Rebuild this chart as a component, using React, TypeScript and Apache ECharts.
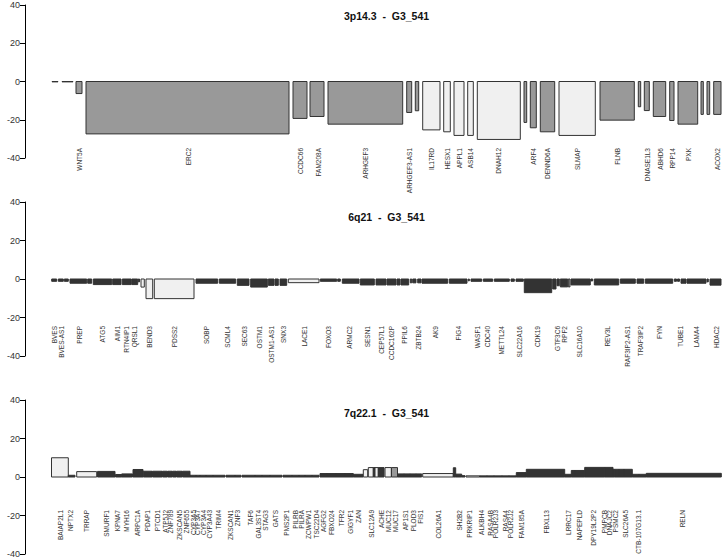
import React, { useEffect, useRef } from "react";
import * as echarts from "echarts";

// fill classes: 0 = dark, 1 = medium, 2 = light
const FILLS = ["#333333", "#999999", "#f0f0f0"];

const titles = ["3p14.3  -  G3_541", "6q21  -  G3_541", "7q22.1  -  G3_541"];
const yTicks = [-40, -20, 0, 20, 40];

// ---------- Panel 1: 3p14.3 ----------
const p1Start = [52, 62, 76, 86, 293, 310, 328, 406.7, 415.3, 422.7, 443.7, 454, 467.7, 477.3, 524, 530.3, 540.3, 559, 600, 638.3, 644.3, 653.3, 669.7, 678, 701, 707, 713.7];
const p1End = [58, 73, 82, 289, 307, 324, 402.7, 411.7, 418.7, 440, 450.3, 464, 473.3, 520.3, 526.7, 536.3, 554.7, 595.3, 634.3, 640.7, 649.3, 665.7, 674, 697.7, 703.3, 709.7, 721];
const p1Value = [-0.2, -0.2, -6.3, -27.4, -19.3, -18.3, -22.3, -16.2, -15.3, -25.3, -26.3, -28.2, -28.2, -30.3, -21.4, -24.2, -26.3, -28.2, -20.2, -13.2, -15.2, -18.3, -20.4, -22.3, -17.2, -17.2, -17.2];
const p1Fill = [1, 1, 1, 1, 1, 1, 1, 1, 1, 2, 2, 2, 2, 2, 1, 1, 1, 2, 1, 1, 1, 1, 1, 1, 1, 1, 1];
const p1Labels = ["WNT5A", "ERC2", "CCDC66", "FAM208A", "ARHGEF3", "ARHGEF3-AS1", "IL17RD", "HESX1", "APPL1", "ASB14", "DNAH12", "ARF4", "DENND6A", "SLMAP", "FLNB", "DNASE1L3", "ABHD6", "RPP14", "PXK", "ACOX2"];
const p1LabelX = [79, 188, 300, 318, 365, 409, 431.7, 447, 459, 470.5, 498.7, 533.5, 547.5, 577, 617, 647, 660, 672, 688, 717];

// ---------- Panel 2: 6q21 ----------
const p2Start = [51.7, 58.3, 64.3, 70, 87.7, 93.3, 112.7, 122.3, 131.7, 138.3, 141, 146, 154.3, 196, 219.3, 237.3, 250.7, 268.3, 275, 280, 288.3, 320.3, 337.7, 342.3, 360.3, 376, 387, 397, 401, 410.3, 412.7, 417.7, 422, 449.3, 468.3, 471, 483.3, 494.3, 511, 516, 524.3, 552.7, 557, 560.3, 568.3, 571, 591, 594.3, 620.3, 637, 645.3, 674.3, 677.5, 681, 687, 707, 710];
const p2End = [56.7, 63.3, 68.3, 86.7, 91.7, 111.7, 121, 131, 137.7, 139.5, 144.3, 152.7, 194, 217.7, 235.7, 249, 267.3, 274, 278.3, 286.7, 319, 336.7, 340.3, 359, 374.3, 386, 396, 400, 408.7, 411.7, 416, 421, 447.7, 467, 469.3, 481.7, 492.7, 509.3, 514.3, 523.3, 551.7, 556, 559.3, 567.7, 570, 590.3, 592.7, 618.7, 635.3, 643.7, 672.7, 676.5, 679.5, 686, 706, 708.3, 721];
const p2Value = [-1.2, -1.2, -1.2, -2.2, -2.2, -2.9, -2.9, -2.9, -2.9, -1.5, -4.2, -10.2, -10.2, -2.2, -2.2, -3.3, -4.2, -3.3, -3.3, -3.3, -1.9, -1.2, -1.2, -2.2, -3.1, -3.1, -3.1, -3.1, -3.1, -2, -2, -2, -2.2, -2.2, -1, -1.2, -1.2, -1.2, -1.2, -1.2, -7.1, -5.2, -3.5, -4.1, -4.1, -3.1, -1, -3.1, -2.2, -2.2, -2.2, -1.2, -1.2, -2.2, -2.2, -1.5, -3.2];
const p2Fill = [0, 0, 0, 0, 0, 0, 0, 0, 0, 0, 2, 2, 2, 0, 0, 0, 0, 0, 0, 0, 2, 0, 0, 0, 0, 0, 0, 0, 0, 0, 0, 0, 0, 0, 0, 0, 0, 0, 0, 0, 0, 0, 0, 0, 1, 0, 0, 0, 0, 0, 0, 0, 0, 0, 0, 0, 0];
const p2Labels = ["BVES", "BVES-AS1", "PREP", "ATG5", "AIM1", "RTN4IP1", "QRSL1", "BEND3", "PDSS2", "SOBP", "SCML4", "SEC63", "OSTM1", "OSTM1-AS1", "SNX3", "LACE1", "FOXO3", "ARMC2", "SESN1", "CEP57L1", "CCDC162P", "PPIL6", "ZBTB24", "AK9", "FIG4", "WASF1", "CDC40", "METTL24", "SLC22A16", "CDK19", "GTF3C6", "RPF2", "SLC16A10", "REV3L", "RAF3IP2-AS1", "TRAF3IP2", "FYN", "TUBE1", "LAMA4", "HDAC2"];
const p2LabelX = [54.3, 61.7, 79, 102.7, 117.3, 126.7, 134, 149.3, 174.3, 206.7, 227.7, 244.3, 259.3, 271, 283.3, 304, 328.3, 349.3, 367.7, 381, 391, 404.3, 418.7, 435, 458.3, 477.7, 487.7, 501.7, 519.3, 537.7, 557.7, 564.3, 579.3, 607.7, 627.7, 640.3, 659.3, 680.3, 696.7, 716];

// ---------- Panel 3: 7q22.1 ----------
const p3Start = [51.5, 68.3, 76.7, 97.5, 115.5, 121.7, 133, 143.3, 152.5, 162.5, 168, 172.5, 176.5, 182.5, 190, 196, 200, 206, 213, 226, 235, 242, 255, 262, 270, 283, 292, 299, 305, 312, 320, 327, 336, 345, 353.3, 363.3, 368.3, 373.3, 375, 378.3, 385, 391.5, 397.5, 404, 410, 416, 422.7, 453.3, 455.7, 461.7, 466, 479.7, 487, 494, 502, 509, 516.3, 526.3, 564.7, 571.3, 575, 584.7, 604.7, 613, 614.7, 619, 624, 632.3, 639, 646.3];
const p3End = [68.3, 75, 96.7, 115, 121.7, 132.5, 143, 152, 162, 167.5, 172, 176, 182, 190, 196, 200, 206, 213, 225, 235, 241, 255, 262, 270, 282, 292, 299, 305, 312, 319, 327, 336, 345, 353.3, 363, 367.7, 373.3, 375, 378.3, 384, 391.3, 397.5, 404, 410, 416, 421.7, 453.3, 455.7, 461.7, 465, 479.7, 487, 494, 502, 509, 516.3, 526.3, 564.7, 571.3, 575, 584.7, 604.7, 613, 614.7, 619, 624, 632.3, 639, 646.3, 721.3];
const p3Value = [10, 0.9, 2.8, 2.9, 1.3, 1.6, 3.9, 3, 3, 3, 3, 3, 3, 3, 0.9, 0.9, 0.9, 0.9, 0.9, 0.9, 0.9, 0.9, 0.9, 0.9, 0.9, 0.9, 0.9, 0.9, 0.9, 0.9, 1.8, 1.8, 1.8, 1.8, 1.4, 3.8, 4.9, 4.9, 4.9, 4.9, 4.9, 4.9, 1.6, 1.6, 1.6, 1.6, 1.8, 4.8, 1.5, 0.7, 0.6, 0.6, 0.6, 0.6, 0.6, 0.6, 2.3, 4, 1.4, 3.4, 3.4, 5, 5, 4, 4, 4, 4, 1.4, 1.4, 1.9];
const p3Fill = [2, 0, 2, 0, 0, 0, 0, 0, 0, 0, 0, 0, 0, 0, 0, 0, 0, 0, 0, 0, 0, 0, 0, 0, 0, 0, 0, 0, 0, 0, 0, 0, 0, 0, 0, 2, 2, 0, 2, 0, 2, 1, 0, 0, 0, 0, 2, 0, 0, 0, 2, 0, 0, 0, 0, 0, 0, 0, 0, 0, 0, 0, 0, 0, 0, 0, 0, 0, 0, 0];
const p3Labels = ["BAIAP2L1", "NPTX2", "TRRAP", "SMURF1", "KPNA7", "MYH16", "ARPC1A", "PDAP1", "PTCD1", "ATP5J2", "ZNF789", "ZKSCAN5", "ZNF655", "CYP3A5", "CYP3A7", "CYP3A4", "CYP3A43", "TRIM4", "ZKSCAN1", "ZNF3", "TAF6", "GAL3ST4", "STAG3", "GATS", "PMS2P1", "PILRB", "PILRA", "ZCWPW1", "TSC22D4", "AGFG2", "FBXO24", "TFR2", "GIGYF1", "ZAN", "SLC12A9", "ACHE", "MUC12", "MUC17", "AP1S1", "PLOD3", "FIS1", "COL26A1", "SH2B2", "PRKRIP1", "ALKBH4", "RASA4B", "POLR2J3", "RASA4", "POLR2J2", "FAM185A", "FBXL13", "LRRC17", "NAPEPLD", "DPY19L2P2", "PMPCB", "DNAJC2", "PSMC2", "SLC26A5", "CTB-107G13.1", "RELN"];
const p3LabelX = [60, 70.7, 86, 106.7, 117.3, 126.7, 137.7, 147.7, 157.3, 165, 170, 179, 186.7, 193.3, 197.7, 203.3, 209.3, 218.3, 230.7, 237.7, 250, 258.3, 265, 275, 286.7, 295, 301.7, 308.3, 316, 323.3, 331.7, 341.7, 350, 358.3, 371, 381.7, 388.3, 395, 405, 413.3, 420, 438.3, 459.3, 469.3, 481.7, 490, 495, 505, 510.7, 521.7, 546.7, 568.3, 579, 593.3, 604, 609.3, 615, 625.7, 638.3, 682.3];

const panels = [
  { start: p1Start, end: p1End, value: p1Value, fill: p1Fill, labels: p1Labels, labelX: p1LabelX, top: 5, height: 153, labelOffset: 66.5, titleY: 16 },
  { start: p2Start, end: p2End, value: p2Value, fill: p2Fill, labels: p2Labels, labelX: p2LabelX, top: 202, height: 154, labelOffset: 47, titleY: 217 },
  { start: p3Start, end: p3End, value: p3Value, fill: p3Fill, labels: p3Labels, labelX: p3LabelX, top: 400, height: 154, labelOffset: 33, titleY: 412.5 },
];

const FONT = "'Liberation Sans', Arial, sans-serif";

export default function App() {
  const ref = useRef<HTMLDivElement>(null);
  useEffect(() => {
    document.body.style.margin = "0";
    document.body.style.background = "#ffffff";
    if (!ref.current) return;
    const chart = echarts.init(ref.current, undefined, { renderer: "svg" });

    const grid: any[] = [];
    const xAxis: any[] = [];
    const yAxis: any[] = [];
    const series: any[] = [];
    const graphic: any[] = [];

    panels.forEach((p, i) => {
      grid.push({ left: 50, right: 0, top: p.top, height: p.height, containLabel: false });
      xAxis.push({ type: "value", gridIndex: i, min: 50, max: 723, show: false });
      yAxis.push({
        type: "value",
        gridIndex: i,
        min: yTicks[0],
        max: yTicks[yTicks.length - 1],
        interval: 20,
        position: "left",
        offset: 25,
        axisLine: { show: true, lineStyle: { color: "#000", width: 1 } },
        axisTick: { show: true, length: 5, lineStyle: { color: "#000", width: 1 } },
        axisLabel: { show: true, margin: 5, fontSize: 9, color: "#333", fontFamily: FONT },
        splitLine: { show: false },
      });
      const barData = p.start.map((s, k) => [s, p.end[k], p.value[k], p.fill[k]]);
      series.push({
        type: "custom",
        xAxisIndex: i,
        yAxisIndex: i,
        clip: false,
        data: barData,
        renderItem: (params: any, api: any) => {
          const s = api.value(0);
          const e = api.value(1);
          const v = api.value(2);
          const f = api.value(3);
          const p0 = api.coord([s, 0]);
          const p1 = api.coord([e, v]);
          return {
            type: "rect",
            shape: {
              x: p0[0],
              y: Math.min(p0[1], p1[1]),
              width: p1[0] - p0[0],
              height: Math.abs(p1[1] - p0[1]),
            },
            style: { fill: FILLS[f], stroke: "#333333", lineWidth: 1 },
          };
        },
      });
      const labelData = p.labelX.map((x) => [x, 0]);
      series.push({
        type: "custom",
        xAxisIndex: i,
        yAxisIndex: i,
        clip: false,
        data: labelData,
        renderItem: (params: any, api: any) => {
          const pt = api.coord([api.value(0), 0]);
          return {
            type: "text",
            x: pt[0],
            y: pt[1] + p.labelOffset,
            rotation: Math.PI / 2,
            style: {
              text: p.labels[params.dataIndex],
              fontSize: 6.5,
              fontFamily: FONT,
              fill: "#333",
              align: "right",
              verticalAlign: "middle",
            },
          };
        },
      });
      graphic.push({
        type: "text",
        x: 386.5,
        y: p.titleY,
        style: {
          text: titles[i],
          font: `bold 10.5px ${FONT}`,
          fill: "#111",
          align: "center",
          verticalAlign: "middle",
        },
      });
    });

    chart.setOption({
      animation: false,
      backgroundColor: "#ffffff",
      grid,
      xAxis,
      yAxis,
      series,
      graphic,
    });
    return () => chart.dispose();
  }, []);
  return <div ref={ref} style={{ width: 723, height: 559 }} />;
}
